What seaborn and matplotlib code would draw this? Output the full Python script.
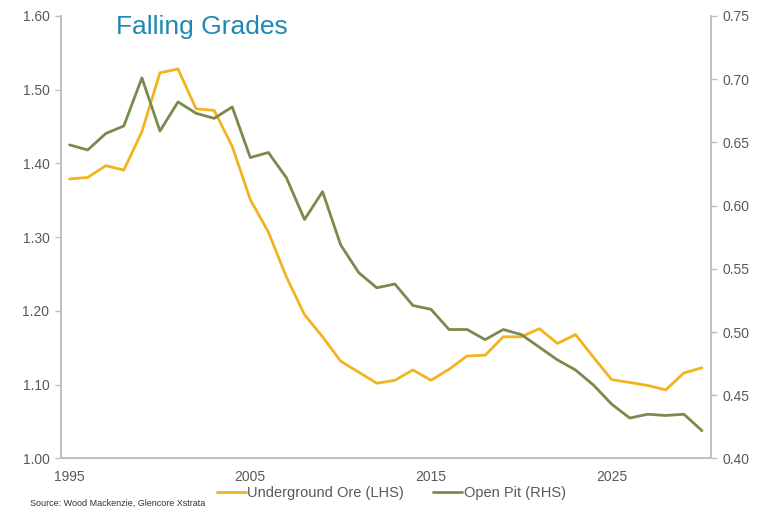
import numpy as np
import pandas as pd
import matplotlib
matplotlib.use("Agg")
import matplotlib.pyplot as plt
import seaborn as sns

# data
years = list(range(1995, 2031))
underground = [1.379, 1.381, 1.397, 1.391, 1.443, 1.523, 1.528, 1.474, 1.472, 1.423,
               1.351, 1.307, 1.246, 1.195, 1.165, 1.132, 1.117, 1.102, 1.106, 1.120,
               1.106, 1.121, 1.139, 1.140, 1.165, 1.165, 1.176, 1.156, 1.168, 1.137,
               1.107, 1.103, 1.099, 1.093, 1.116, 1.123]
open_pit = [0.648, 0.644, 0.657, 0.663, 0.701, 0.659, 0.682, 0.673, 0.669, 0.678,
            0.638, 0.642, 0.622, 0.589, 0.611, 0.569, 0.547, 0.535, 0.538, 0.521,
            0.518, 0.502, 0.502, 0.494, 0.502, 0.498, 0.488, 0.478, 0.470, 0.458,
            0.443, 0.432, 0.435, 0.434, 0.435, 0.422]
left_ticks = [1.00, 1.10, 1.20, 1.30, 1.40, 1.50, 1.60]
right_ticks = [0.40, 0.45, 0.50, 0.55, 0.60, 0.65, 0.70, 0.75]
year_labels = [1995, 2005, 2015, 2025]

YELLOW = "#f2b320"
GREEN = "#7a8a4c"
GRID = "#bfbfbf"
TXT = "#595959"

sns.set_style("white")
plt.rcParams['font.family'] = ['Liberation Sans', 'DejaVu Sans']

df = pd.DataFrame({"year": years, "underground": underground, "open_pit": open_pit})

fig = plt.figure(figsize=(7.67, 5.14), dpi=100)
ax = fig.add_axes([0.079, 0.108, 0.848, 0.861])
ax2 = ax.twinx()

sns.lineplot(data=df, x="year", y="underground", ax=ax, color=YELLOW, lw=2.0,
             label="Underground Ore (LHS)", legend=False)
sns.lineplot(data=df, x="year", y="open_pit", ax=ax2, color=GREEN, lw=2.0,
             label="Open Pit (RHS)", legend=False)

ax.set_xlim(years[0] - 0.5, years[-1] + 0.5)
ax.set_ylim(1.0, 1.6)
ax2.set_ylim(0.40, 0.75)

ax.set_yticks(left_ticks)
ax.set_yticklabels([f"{v:.2f}" for v in left_ticks])
ax2.set_yticks(right_ticks)
ax2.set_yticklabels([f"{v:.2f}" for v in right_ticks])

# labels centred on the year, tick marks between categories
ax.set_xticks(year_labels)
ax.set_xticklabels([str(y) for y in year_labels])
ax.set_xticks([y - 0.5 for y in year_labels], minor=True)
ax.tick_params(axis="x", which="major", length=0, pad=8, labelsize=10, labelcolor=TXT)
ax.tick_params(axis="x", which="minor", length=4, width=1, color=GRID, direction="inout")
ax.tick_params(axis="y", length=4, width=1, color=GRID, labelsize=10, labelcolor=TXT, pad=4)
ax2.tick_params(axis="y", length=4, width=1, color=GRID, labelsize=10, labelcolor=TXT, pad=4)

ax.set_xlabel("")
ax.set_ylabel("")
ax2.set_ylabel("")

for a in (ax, ax2):
    a.spines["top"].set_visible(False)
    for s in ("left", "right", "bottom"):
        a.spines[s].set_color(GRID)
        a.spines[s].set_linewidth(1.2)

ax.text(0.085, 1.003, "Falling Grades", transform=ax.transAxes, fontsize=19,
        color="#1f88b5", va="top", ha="left")

h1, l1 = ax.get_legend_handles_labels()
h2, l2 = ax2.get_legend_handles_labels()
fig.legend(h1 + h2, l1 + l2, loc="center", bbox_to_anchor=(0.51, 0.04), ncol=2,
           frameon=False, fontsize=10.5, handlelength=2.0, handletextpad=0.1,
           columnspacing=2.0, labelcolor=TXT)

fig.text(0.039, 0.013, "Source: Wood Mackenzie, Glencore Xstrata", fontsize=6.5,
         color="#333333", ha="left", va="bottom")

fig.savefig("out.png", dpi=100)
